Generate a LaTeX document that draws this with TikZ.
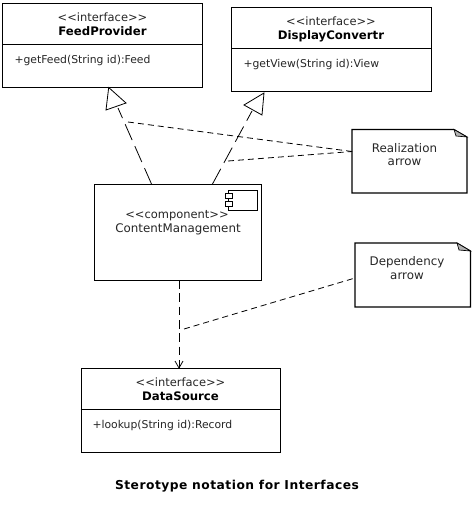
\documentclass[tikz,border=0pt]{standalone}
\usepackage{fontspec}
\setmainfont[Ligatures=NoCommon]{DejaVu Sans}
\newcommand{\stereo}[1]{<{}<#1>{}>}
\begin{document}
\begin{tikzpicture}[x=0.75pt,y=-0.75pt,
  line width=0.8pt,
  box/.style={draw=black,fill=white,inner sep=0pt,anchor=north west},
  lbl/.style={inner sep=0pt,font=\fontsize{8.9pt}{10pt}\selectfont,text=black!85},
  stlbl/.style={inner sep=0pt,font=\fontsize{8.6pt}{10pt}\selectfont,text=black!85},
  boldlbl/.style={inner sep=0pt,font=\fontsize{8.8pt}{10pt}\selectfont\bfseries},
  opfont/.style={inner sep=0pt,anchor=west,font=\fontsize{8.1pt}{9pt}\selectfont,text=black!85},
  divider/.style={line width=0.75pt},
  realize/.style={dash pattern=on 13pt off 5pt,line width=0.6pt},
  notelink/.style={dash pattern=on 4.5pt off 3pt,line width=0.6pt},
  dep/.style={dash pattern=on 6.5pt off 3.5pt,line width=0.7pt},
  tri/.style={draw,fill=white,line width=0.6pt,line join=miter}]
\useasboundingbox (0,0) rectangle (474,525);
\fill[white] (0,0) rectangle (474,525);

% interface boxes
\node[box,minimum width=199.5*0.75pt,minimum height=83.5*0.75pt] (feed) at (2,3) {};
\draw[divider] (feed.west |- 0,44.6) -- (feed.east |- 0,44.6);
\node[stlbl] (feedS) at (102.5,17) {\stereo{interface}};
\node[boldlbl] (feedN) at (102.5,31.5) {FeedProvider};
\node[opfont] (feedO) at (14,61) {+getFeed(String id):Feed};

\node[box,minimum width=199.5*0.75pt,minimum height=83.5*0.75pt] (disp) at (231,7) {};
\draw[divider] (disp.west |- 0,48.6) -- (disp.east |- 0,48.6);
\node[stlbl] (dispS) at (331,21) {\stereo{interface}};
\node[boldlbl] (dispN) at (331,36) {DisplayConvertr};
\node[opfont] (dispO) at (243,64.5) {+getView(String id):View};

\node[box,minimum width=199*0.75pt,minimum height=84*0.75pt] (data) at (80.5,368) {};
\draw[divider] (data.west |- 0,409.6) -- (data.east |- 0,409.6);
\node[stlbl] (dataS) at (180.5,382) {\stereo{interface}};
\node[boldlbl] (dataN) at (180.5,396.5) {DataSource};
\node[opfont] (dataO) at (92,426) {+lookup(String id):Record};

% component
\node[box,minimum width=167*0.75pt,minimum height=96*0.75pt] (comp) at (94,184) {};
\node[box,minimum width=29*0.75pt,minimum height=20.5*0.75pt] (iconA) at (227.5,189.5) {};
\node[box,minimum width=6.5*0.75pt,minimum height=5*0.75pt] (iconB) at (225,193) {};
\node[box,minimum width=6.5*0.75pt,minimum height=5*0.75pt] (iconC) at (225,201) {};
\node[stlbl] (compS) at (177,216) {\stereo{component}};
\node[lbl] (compN) at (178,229.5) {ContentManagement};

% notes
\draw[fill=white] (352,129.5) -- (454,129.5) -- (467,137) -- (467,193) -- (352,193) -- cycle;
\draw[fill=black!30,line width=0.5pt] (454,129.5) -- (456,136) -- (467,137) -- cycle;
\node[lbl] (n1t) at (404.5,148) {Realization};
\node[lbl] (n1u) at (404.5,162.5) {arrow};
\coordinate (n1) at (352,151.5);

\draw[fill=white] (355,243) -- (457,243) -- (470.5,251) -- (470.5,307) -- (355,307) -- cycle;
\draw[fill=black!30,line width=0.5pt] (457,243) -- (459,250) -- (470.5,251) -- cycle;
\node[lbl] (n2t) at (407,262) {Dependency};
\node[lbl] (n2u) at (407,276) {arrow};
\coordinate (n2) at (355,278);

% realization arrows
\coordinate (fA) at (108.7,87.5);
\coordinate (fB) at (106,110);
\coordinate (fC) at (126,103);
\coordinate (fM) at (118,108);
\coordinate (fS) at (151.5,184);
\draw[realize] (fS) -- (fM);
\draw[tri] (fA) -- (fB) -- (fC) -- cycle;
\coordinate (dA) at (264,93);
\coordinate (dB) at (244,105);
\coordinate (dC) at (262,115);
\coordinate (dM) at (252,111);
\coordinate (dS) at (212.5,184);
\draw[realize] (dS) -- (dM);
\draw[tri] (dA) -- (dB) -- (dC) -- cycle;

% note links
\coordinate (l1) at (128,122);
\coordinate (l2) at (228,161);
\coordinate (l3) at (184,329);
\draw[notelink] (l1) -- (n1);
\draw[notelink] (l2) -- (n1);
\draw[notelink] (l3) -- (n2);

% dependency
\coordinate (depS) at (179,280);
\coordinate (depE) at (179,368);
\draw[dep] (depS) -- (depE);
\draw[line width=0.6pt] (175,361) -- (depE) -- (183,361);

% caption
\node[inner sep=0pt,font=\fontsize{9.2pt}{10pt}\selectfont\bfseries\addfontfeature{LetterSpace=4}] (cap) at (237,486.5) {Sterotype notation for Interfaces};
\end{tikzpicture}
\end{document}
